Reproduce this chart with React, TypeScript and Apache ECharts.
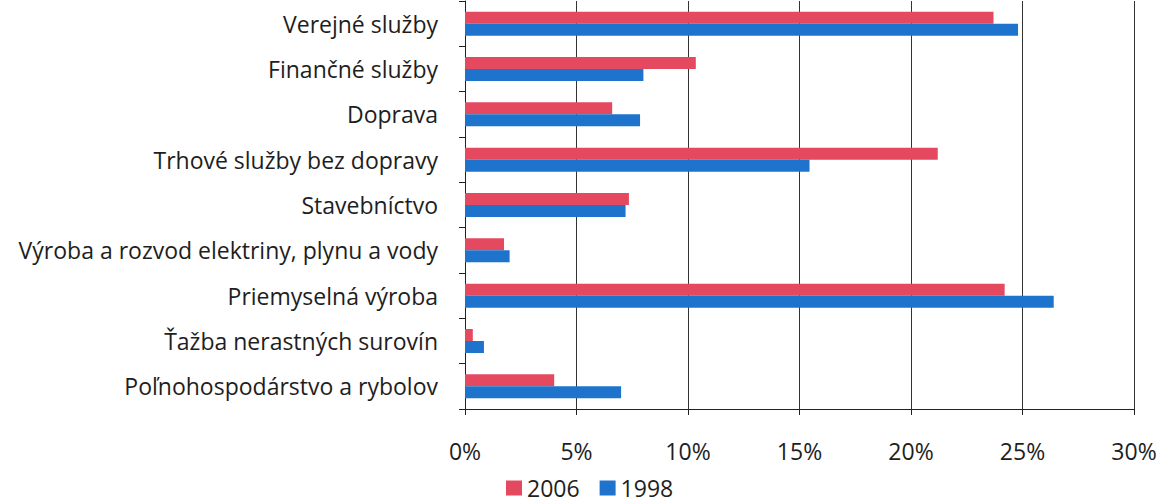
import React, { useEffect, useRef } from "react";
import * as echarts from "echarts";

const categories = [
  "Verejné služby",
  "Finančné služby",
  "Doprava",
  "Trhové služby bez dopravy",
  "Stavebníctvo",
  "Výroba a rozvod elektriny, plynu a vody",
  "Priemyselná výroba",
  "Ťažba nerastných surovín",
  "Poľnohospodárstvo a rybolov",
];
const values2006 = [23.7, 10.35, 6.6, 21.2, 7.35, 1.75, 24.2, 0.35, 4.0];
const values1998 = [24.8, 8.0, 7.85, 15.45, 7.2, 2.0, 26.4, 0.85, 7.0];
const xTicks = [0, 5, 10, 15, 20, 25, 30];

const FONT = "'Open Sans', sans-serif";
const TEXT = "#1e1e1e";

export default function App() {
  const ref = useRef<HTMLDivElement>(null);
  useEffect(() => {
    if (!ref.current) return;
    const chart = echarts.init(ref.current, null, { renderer: "svg" });
    chart.setOption({
      animation: false,
      backgroundColor: "#ffffff",
      textStyle: { fontFamily: FONT },
      legend: {
        data: ["2006", "1998"],
        left: 506,
        top: 475,
        padding: 0,
        itemWidth: 16,
        itemHeight: 15,
        itemGap: 20,
        icon: "rect",
        textStyle: {
          fontSize: 23,
          lineHeight: 26,
          color: TEXT,
          fontFamily: FONT,
          padding: [0, 0, 0, 0],
        },
      },
      grid: { left: 465, right: 27, top: 1, bottom: 95, containLabel: false },
      xAxis: {
        type: "value",
        min: xTicks[0],
        max: xTicks[xTicks.length - 1],
        interval: 5,
        axisLine: { show: true, lineStyle: { color: "#222", width: 1 } },
        axisTick: { show: true, length: 6, lineStyle: { color: "#222" } },
        axisLabel: {
          formatter: (v: number) => v + "%",
          fontSize: 23,
          color: TEXT,
          fontFamily: FONT,
          margin: 30,
        },
        splitLine: { show: true, lineStyle: { color: "#333", width: 1 } },
      },
      yAxis: {
        type: "category",
        data: categories,
        inverse: true,
        axisLine: { show: true, lineStyle: { color: "#222", width: 1 } },
        axisTick: { show: true, length: 6, lineStyle: { color: "#222" } },
        axisLabel: {
          fontSize: 23,
          color: TEXT,
          fontFamily: FONT,
          margin: 27,
        },
      },
      series: [
        {
          name: "2006",
          type: "bar",
          data: values2006,
          barWidth: 12,
          barGap: "0%",
          itemStyle: { color: "#E5495F" },
        },
        {
          name: "1998",
          type: "bar",
          data: values1998,
          barWidth: 12,
          barGap: "0%",
          itemStyle: { color: "#1E74CC" },
        },
      ],
    });
    return () => chart.dispose();
  }, []);
  return (
    <div
      ref={ref}
      style={{ position: "absolute", left: 0, top: 0, width: 1161, height: 504 }}
    />
  );
}
